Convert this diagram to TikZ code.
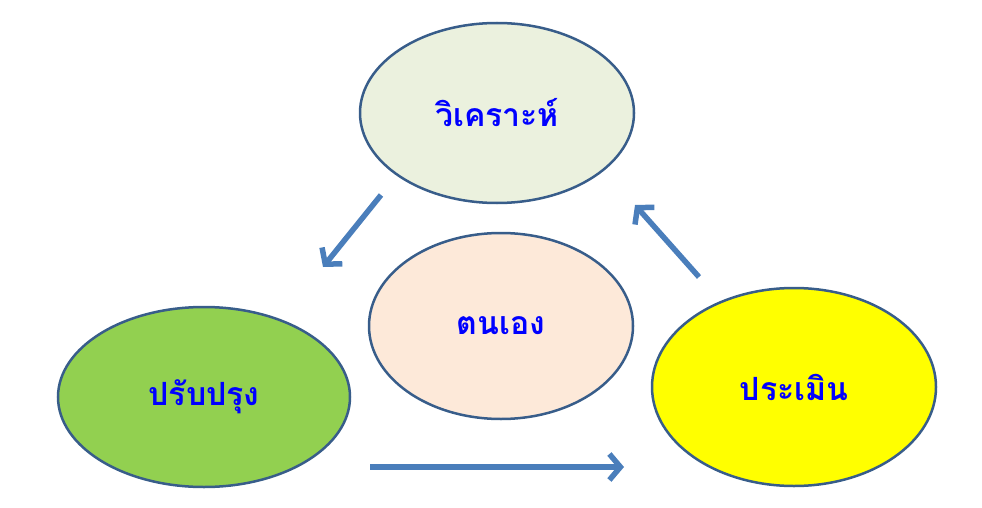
\documentclass[tikz,border=0pt]{standalone}
\usepackage{fontspec}
\newfontfamily\thaifont[Script=Thai]{Loma}
\usetikzlibrary{shapes.geometric,arrows.meta}
\definecolor{edgeblue}{HTML}{385D8A}
\definecolor{arrowblue}{HTML}{4A7EBB}
\definecolor{txtblue}{HTML}{0000FF}
\definecolor{pureyellow}{HTML}{FFFF00}
\tikzset{
  bubble/.style={ellipse,draw=edgeblue,line width=2.5pt,inner sep=0pt,font=\thaifont\bfseries\fontsize{32}{36}\selectfont,text=txtblue},
  flow/.style={draw=arrowblue,line width=5.5pt,-{Straight Barb[length=11pt,width=26pt,line width=5.5pt]},line cap=butt}
}
\begin{document}
\begin{tikzpicture}[x=1pt,y=-1pt]
\useasboundingbox (0,0) rectangle (982,508);
\node[bubble,fill={rgb,255:red,235;green,241;blue,222},minimum width=274pt,minimum height=180pt] (top) at (497,113) {วิเคราะห์};
\node[bubble,fill={rgb,255:red,253;green,233;blue,217},minimum width=264pt,minimum height=186pt] (mid) at (501,326) {ตนเอง};
\node[bubble,fill={rgb,255:red,146;green,208;blue,80},minimum width=292pt,minimum height=180pt] (left) at (204,397) {ปรับปรุง};
\node[bubble,fill=pureyellow,minimum width=284pt,minimum height=198pt] (right) at (794,387) {ประเมิน};
\coordinate (a1) at (381,195);
\coordinate (a2) at (323,267);
\coordinate (b1) at (370,467);
\coordinate (b2) at (624,467);
\coordinate (c1) at (699,277);
\coordinate (c2) at (635,205);
\draw[flow] (a1) -- (a2);
\draw[flow] (b1) -- (b2);
\draw[flow] (c1) -- (c2);
\end{tikzpicture}
\end{document}
